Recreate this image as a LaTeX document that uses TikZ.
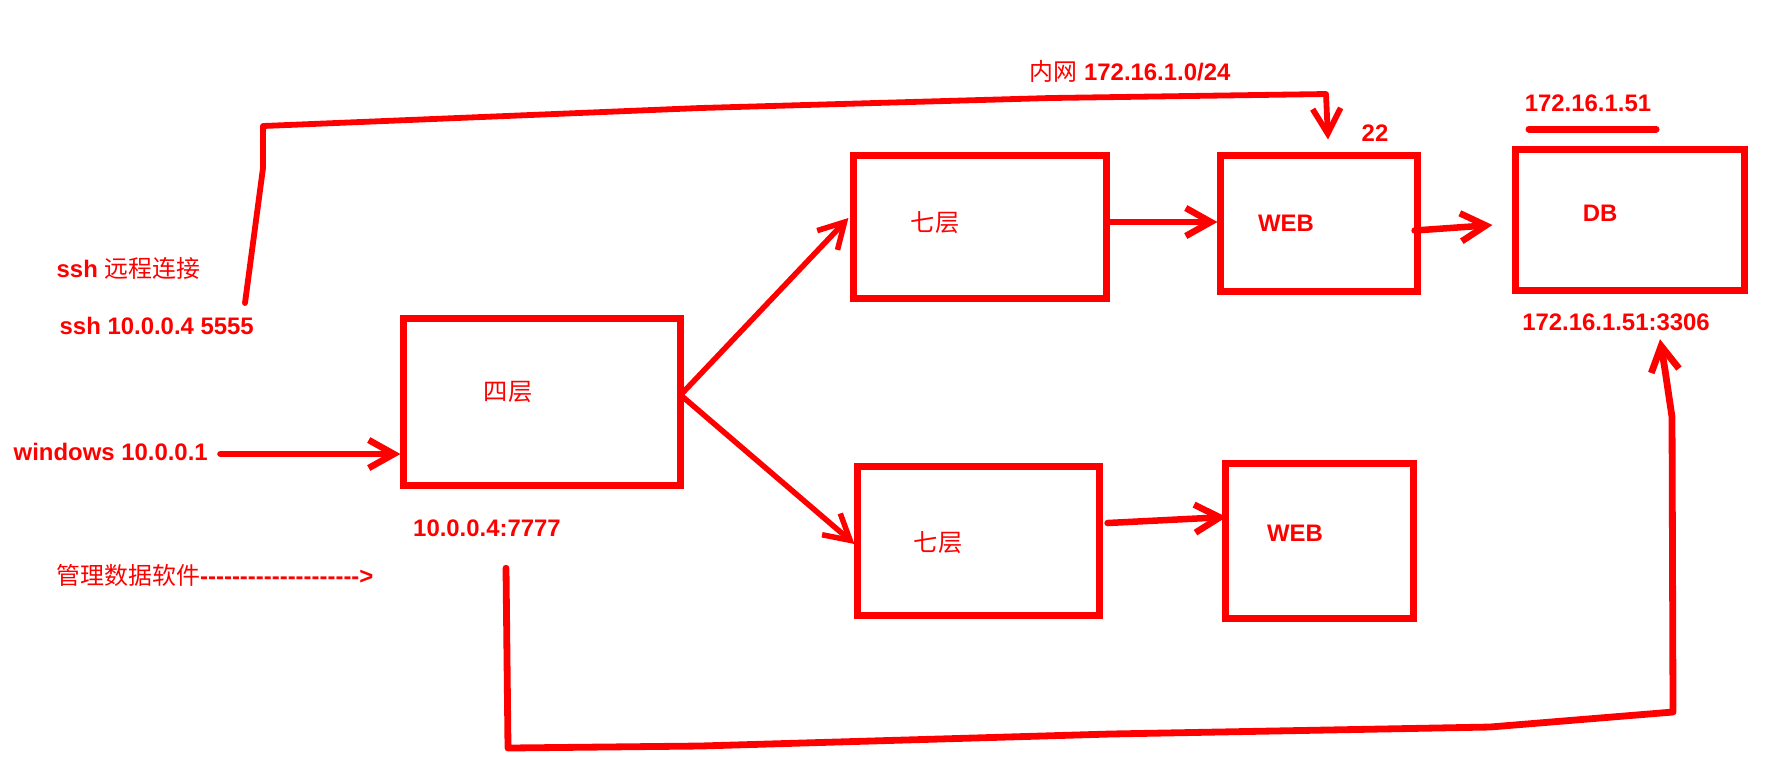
\documentclass[tikz,border=0pt]{standalone}
\usepackage{fontspec}
\setmainfont{Liberation Sans}
\newfontfamily\cjk{Noto Sans CJK SC}
\usetikzlibrary{arrows.meta,calc}
\definecolor{pen}{RGB}{255,0,0}

\begin{document}
\begin{tikzpicture}[x=0.01cm,y=-0.01cm,
  box/.style={draw=pen, line width=0.07cm, inner sep=0, rectangle},
  lat/.style={text=pen, font=\fontsize{6.8}{8}\selectfont\bfseries, inner sep=0},
  han/.style={text=pen, font=\fontsize{6.9}{8}\selectfont\cjk, inner sep=0},
  wire/.style={draw=pen, line width=0.065cm, line cap=round, line join=round},
  arr/.style={wire, -{Straight Barb[length=0.25cm,width=0.28cm]}},
]
\useasboundingbox (0,0) rectangle (1770,756);

% boxes
\node[box, minimum width=2.76cm, minimum height=1.66cm] (l4)   at (542,402)    {};
\node[box, minimum width=2.52cm, minimum height=1.42cm] (s7a)  at (980,227)    {};
\node[box, minimum width=1.96cm, minimum height=1.35cm] (weba) at (1319,223.5) {};
\node[box, minimum width=2.28cm, minimum height=1.40cm] (db)   at (1630,220)   {};
\node[box, minimum width=2.41cm, minimum height=1.48cm] (s7b)  at (978.5,541)  {};
\node[box, minimum width=1.87cm, minimum height=1.54cm] (webb) at (1319.5,541)  {};

% box captions
\node[han] (t4)  at (508,392) {四层};
\node[han] (t7a) at (935,223) {七层};
\node[han] (t7b) at (938,543) {七层};
\node[lat] (tweba) at (1286,223) {WEB};
\node[lat] (twebb) at (1295,533) {WEB};
\node[lat] (tdb)   at (1600,213) {DB};

% addresses and notes
\node[lat] (lannet) at (1130,71) {{\cjk\mdseries 内网} 172.16.1.0/24};
\node[lat] (p22)    at (1375,133) {22};
\node[lat] (dbip)   at (1588,103) {172.16.1.51};
\node[lat] (dbport) at (1616,322) {172.16.1.51:3306};
\node[lat] (vip)    at (487,528) {10.0.0.4:7777};
\node[lat, anchor=west] (win)    at (13,452) {windows 10.0.0.1};
\node[lat, anchor=west] (sshcn)  at (56,268) {ssh {\cjk\mdseries 远程连接}};
\node[lat, anchor=west] (sshcmd) at (59,326) {ssh 10.0.0.4 5555};
\node[lat, anchor=west] (mgr)    at (56,575) {{\cjk\mdseries 管理数据软件}-{}-{}-{}-{}-{}-{}-{}-{}-{}-{}-{}-{}-{}-{}-{}-{}-{}-{}-{}->};

% underline of the DB address
\draw[wire, line width=0.07cm] ($(dbip.center)+(-59,26)$) -- ($(dbip.center)+(68,26)$);

% traffic path
\draw[arr] ($(win.east)+(12,2)$) -- ($(l4.west)+(0,52)$);
\coordinate (fork) at ($(l4.east)+(-3,-7)$);
\draw[arr, line width=0.055cm] (fork) -- ($(s7a.west)+(-2,-9)$);
\draw[arr, line width=0.055cm] (fork) -- ($(s7b.west)+(0,3)$);
\draw[arr] ($(s7a.east)+(0,-5)$) -- ($(weba.west)+(0,-1.5)$);
\draw[arr] ($(weba.east)+(-6,7)$) -- ($(db.west)+(-20,5)$);
\draw[arr] ($(s7b.east)+(5,-18)$) -- ($(webb.west)+(4,-24)$);

% ssh hop over the LAN to port 22
\coordinate (sshfoot) at (245,303);
\draw[arr, line width=0.058cm] (sshfoot) -- (257,213) -- (263,168) -- (263,126)
  -- (700,108) -- (1050,98) -- (1326,94) -- ($(weba.north)+(9,-13)$);

% database client route to 3306
\coordinate (mgrfoot) at ($(vip.south)+(19,31)$);
\draw[arr, line width=0.068cm] (mgrfoot) -- (508,748) -- (700,746) -- (1110,734) -- (1490,727)
  -- (1673,712) -- (1672,417) -- (1665,370) -- ($(dbport.south)+(44,8)$);
\end{tikzpicture}
\end{document}
